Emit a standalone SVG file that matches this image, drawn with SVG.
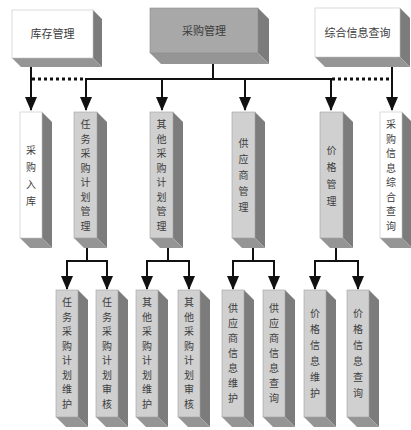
<svg xmlns="http://www.w3.org/2000/svg" width="411" height="430" viewBox="0 0 411 430">
<style>
.fg{fill:#d0d0d0;stroke:#a0a0a0;stroke-width:0.6}
.fw{fill:#ffffff;stroke:#c4c4c4;stroke-width:0.6}
.ft{fill:#a8a8a8;stroke:#8a8a8a;stroke-width:0.6}
.sd{fill:#7c7c7c}
.bt{fill:#959595}
.t{font-family:"Noto Sans CJK SC","Noto Sans CJK JP",sans-serif;font-size:11px;fill:#3c3c3c;text-anchor:middle}
.v{font-size:10px}
.ln{stroke:#111;stroke-width:2;fill:none}
.ar{stroke:#111;stroke-width:2;fill:none;marker-end:url(#ah)}
.dot{stroke:#111;stroke-width:3;stroke-dasharray:3 3;fill:none}
</style>
<defs>
<marker id="ah" viewBox="0 0 14 12" markerWidth="14" markerHeight="12" refX="13" refY="6" orient="auto" markerUnits="userSpaceOnUse">
<path d="M0,0 L14,6 L0,12 z" fill="#111"/>
</marker>
</defs>
<rect width="411" height="430" fill="#ffffff"/>

<g id="connectors">
<line class="ln" x1="213" y1="64" x2="213" y2="79"/>
<line class="ln" x1="85" y1="79" x2="332" y2="79"/>
<line class="dot" x1="32" y1="79" x2="85" y2="79"/>
<line class="dot" x1="332" y1="79" x2="392" y2="79"/>
<line class="ar" x1="31" y1="67" x2="31" y2="110"/>
<line class="ar" x1="392" y1="67" x2="392" y2="110"/>
<line class="ar" x1="86" y1="79" x2="86" y2="110"/>
<line class="ar" x1="162" y1="79" x2="162" y2="110"/>
<line class="ar" x1="245" y1="79" x2="245" y2="110"/>
<line class="ar" x1="331" y1="79" x2="331" y2="110"/>
<line class="ln" x1="87" y1="248" x2="87" y2="261"/>
<line class="ln" x1="66" y1="261" x2="108" y2="261"/>
<line class="ar" x1="67" y1="261" x2="67" y2="289"/>
<line class="ar" x1="107" y1="261" x2="107" y2="289"/>
<line class="ln" x1="168" y1="248" x2="168" y2="261"/>
<line class="ln" x1="146" y1="261" x2="190" y2="261"/>
<line class="ar" x1="147" y1="261" x2="147" y2="289"/>
<line class="ar" x1="189" y1="261" x2="189" y2="289"/>
<line class="ln" x1="253" y1="248" x2="253" y2="261"/>
<line class="ln" x1="232" y1="261" x2="275" y2="261"/>
<line class="ar" x1="233" y1="261" x2="233" y2="289"/>
<line class="ar" x1="274" y1="261" x2="274" y2="289"/>
<line class="ln" x1="336" y1="248" x2="336" y2="261"/>
<line class="ln" x1="314" y1="261" x2="359" y2="261"/>
<line class="ar" x1="315" y1="261" x2="315" y2="289"/>
<line class="ar" x1="358" y1="261" x2="358" y2="289"/>
</g>

<g id="kucun">
<polygon class="sd" points="93,10 102,19 102,67 93,58"/>
<polygon class="bt" points="12,58 93,58 102,67 21,67"/>
<rect class="fw" x="12" y="10" width="81" height="48"/>
<text class="t" x="52.5" y="38">库存管理</text>
</g>
<g id="caigou">
<polygon class="sd" points="258,8 269,19 269,64 258,53"/>
<polygon class="bt" points="150,53 258,53 269,64 161,64"/>
<rect class="ft" x="150" y="8" width="108" height="45"/>
<text class="t" x="204" y="35">采购管理</text>
</g>
<g id="zonghe">
<polygon class="sd" points="400,8 410,18 410,67 400,57"/>
<polygon class="bt" points="315,57 400,57 410,67 325,67"/>
<rect class="fw" x="315" y="8" width="85" height="49"/>
<text class="t" x="357.5" y="37">综合信息查询</text>
</g>

<g id="rk">
<polygon class="sd" points="42,112 52,122 52,248 42,238"/>
<polygon class="bt" points="20,238 42,238 52,248 30,248"/>
<rect class="fw" x="20" y="112" width="22" height="126"/>
<text class="t v" x="31" y="153.5"><tspan x="31">采</tspan><tspan x="31" dy="17">购</tspan><tspan x="31" dy="17">入</tspan><tspan x="31" dy="17">库</tspan></text>
</g>
<g id="rwjh">
<polygon class="sd" points="97,112 107,122 107,248 97,238"/>
<polygon class="bt" points="74,238 97,238 107,248 84,248"/>
<rect class="fg" x="74" y="112" width="23" height="126"/>
<text class="t v" x="85.5" y="128.3"><tspan x="85.5">任</tspan><tspan x="85.5" dy="14.5">务</tspan><tspan x="85.5" dy="14.5">采</tspan><tspan x="85.5" dy="14.5">购</tspan><tspan x="85.5" dy="14.5">计</tspan><tspan x="85.5" dy="14.5">划</tspan><tspan x="85.5" dy="14.5">管</tspan><tspan x="85.5" dy="14.5">理</tspan></text>
</g>
<g id="qtjh">
<polygon class="sd" points="173,112 183,122 183,248 173,238"/>
<polygon class="bt" points="150,238 173,238 183,248 160,248"/>
<rect class="fg" x="150" y="112" width="23" height="126"/>
<text class="t v" x="161.5" y="128.3"><tspan x="161.5">其</tspan><tspan x="161.5" dy="14.5">他</tspan><tspan x="161.5" dy="14.5">采</tspan><tspan x="161.5" dy="14.5">购</tspan><tspan x="161.5" dy="14.5">计</tspan><tspan x="161.5" dy="14.5">划</tspan><tspan x="161.5" dy="14.5">管</tspan><tspan x="161.5" dy="14.5">理</tspan></text>
</g>
<g id="gys">
<polygon class="sd" points="255,112 265,122 265,248 255,238"/>
<polygon class="bt" points="232,238 255,238 265,248 242,248"/>
<rect class="fg" x="232" y="112" width="23" height="126"/>
<text class="t v" x="243.5" y="147"><tspan x="243.5">供</tspan><tspan x="243.5" dy="16">应</tspan><tspan x="243.5" dy="16">商</tspan><tspan x="243.5" dy="16">管</tspan><tspan x="243.5" dy="16">理</tspan></text>
</g>
<g id="jg">
<polygon class="sd" points="343,112 353,122 353,248 343,238"/>
<polygon class="bt" points="320,238 343,238 353,248 330,248"/>
<rect class="fg" x="320" y="112" width="23" height="126"/>
<text class="t v" x="331.5" y="153.5"><tspan x="331.5">价</tspan><tspan x="331.5" dy="17">格</tspan><tspan x="331.5" dy="17">管</tspan><tspan x="331.5" dy="17">理</tspan></text>
</g>
<g id="cgcx">
<polygon class="sd" points="402,112 412,122 412,248 402,238"/>
<polygon class="bt" points="380,238 402,238 412,248 390,248"/>
<rect class="fw" x="380" y="112" width="22" height="126"/>
<text class="t v" x="391" y="128.3"><tspan x="391">采</tspan><tspan x="391" dy="14.5">购</tspan><tspan x="391" dy="14.5">信</tspan><tspan x="391" dy="14.5">息</tspan><tspan x="391" dy="14.5">综</tspan><tspan x="391" dy="14.5">合</tspan><tspan x="391" dy="14.5">查</tspan><tspan x="391" dy="14.5">询</tspan></text>
</g>

<g id="rwwh">
<polygon class="sd" points="78,290 88,300 88,427 78,417"/>
<polygon class="bt" points="56,417 78,417 88,427 66,427"/>
<rect class="fg" x="56" y="290" width="22" height="127"/>
<text class="t v" x="67" y="306.3"><tspan x="67">任</tspan><tspan x="67" dy="14.5">务</tspan><tspan x="67" dy="14.5">采</tspan><tspan x="67" dy="14.5">购</tspan><tspan x="67" dy="14.5">计</tspan><tspan x="67" dy="14.5">划</tspan><tspan x="67" dy="14.5">维</tspan><tspan x="67" dy="14.5">护</tspan></text>
</g>
<g id="rwsh">
<polygon class="sd" points="118,290 128,300 128,427 118,417"/>
<polygon class="bt" points="96,417 118,417 128,427 106,427"/>
<rect class="fg" x="96" y="290" width="22" height="127"/>
<text class="t v" x="107" y="306.3"><tspan x="107">任</tspan><tspan x="107" dy="14.5">务</tspan><tspan x="107" dy="14.5">采</tspan><tspan x="107" dy="14.5">购</tspan><tspan x="107" dy="14.5">计</tspan><tspan x="107" dy="14.5">划</tspan><tspan x="107" dy="14.5">审</tspan><tspan x="107" dy="14.5">核</tspan></text>
</g>
<g id="qtwh">
<polygon class="sd" points="158,290 168,300 168,427 158,417"/>
<polygon class="bt" points="136,417 158,417 168,427 146,427"/>
<rect class="fg" x="136" y="290" width="22" height="127"/>
<text class="t v" x="147" y="306.3"><tspan x="147">其</tspan><tspan x="147" dy="14.5">他</tspan><tspan x="147" dy="14.5">采</tspan><tspan x="147" dy="14.5">购</tspan><tspan x="147" dy="14.5">计</tspan><tspan x="147" dy="14.5">划</tspan><tspan x="147" dy="14.5">维</tspan><tspan x="147" dy="14.5">护</tspan></text>
</g>
<g id="qtsh">
<polygon class="sd" points="200,290 210,300 210,427 200,417"/>
<polygon class="bt" points="178,417 200,417 210,427 188,427"/>
<rect class="fg" x="178" y="290" width="22" height="127"/>
<text class="t v" x="189" y="306.3"><tspan x="189">其</tspan><tspan x="189" dy="14.5">他</tspan><tspan x="189" dy="14.5">采</tspan><tspan x="189" dy="14.5">购</tspan><tspan x="189" dy="14.5">计</tspan><tspan x="189" dy="14.5">划</tspan><tspan x="189" dy="14.5">审</tspan><tspan x="189" dy="14.5">核</tspan></text>
</g>
<g id="gyswh">
<polygon class="sd" points="244,290 254,300 254,427 244,417"/>
<polygon class="bt" points="222,417 244,417 254,427 232,427"/>
<rect class="fg" x="222" y="290" width="22" height="127"/>
<text class="t v" x="233" y="312"><tspan x="233">供</tspan><tspan x="233" dy="15">应</tspan><tspan x="233" dy="15">商</tspan><tspan x="233" dy="15">信</tspan><tspan x="233" dy="15">息</tspan><tspan x="233" dy="15">维</tspan><tspan x="233" dy="15">护</tspan></text>
</g>
<g id="gyscx">
<polygon class="sd" points="285,290 295,300 295,427 285,417"/>
<polygon class="bt" points="263,417 285,417 295,427 273,427"/>
<rect class="fg" x="263" y="290" width="22" height="127"/>
<text class="t v" x="274" y="312"><tspan x="274">供</tspan><tspan x="274" dy="15">应</tspan><tspan x="274" dy="15">商</tspan><tspan x="274" dy="15">信</tspan><tspan x="274" dy="15">息</tspan><tspan x="274" dy="15">查</tspan><tspan x="274" dy="15">询</tspan></text>
</g>
<g id="jgwh">
<polygon class="sd" points="326,290 336,300 336,427 326,417"/>
<polygon class="bt" points="304,417 326,417 336,427 314,427"/>
<rect class="fg" x="304" y="290" width="22" height="127"/>
<text class="t v" x="315" y="317"><tspan x="315">价</tspan><tspan x="315" dy="16">格</tspan><tspan x="315" dy="16">信</tspan><tspan x="315" dy="16">息</tspan><tspan x="315" dy="16">维</tspan><tspan x="315" dy="16">护</tspan></text>
</g>
<g id="jgcx">
<polygon class="sd" points="369,290 379,300 379,427 369,417"/>
<polygon class="bt" points="347,417 369,417 379,427 357,427"/>
<rect class="fg" x="347" y="290" width="22" height="127"/>
<text class="t v" x="358" y="317"><tspan x="358">价</tspan><tspan x="358" dy="16">格</tspan><tspan x="358" dy="16">信</tspan><tspan x="358" dy="16">息</tspan><tspan x="358" dy="16">查</tspan><tspan x="358" dy="16">询</tspan></text>
</g>
</svg>
